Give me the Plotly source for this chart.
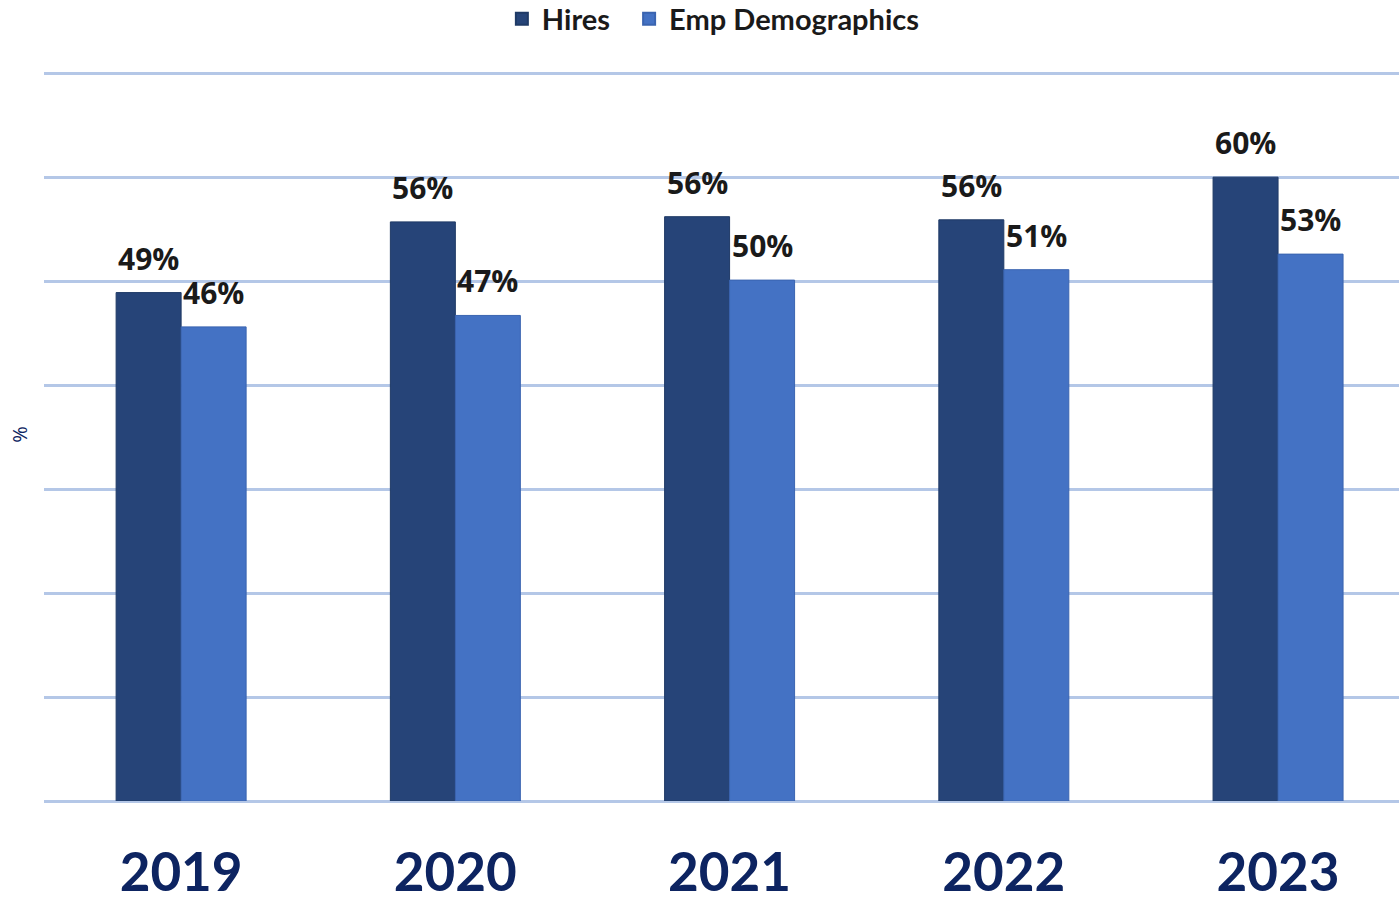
import plotly.graph_objects as go

years = ["2019", "2020", "2021", "2022", "2023"]
hires = [48.9, 55.7, 56.2, 55.9, 60.0]
emp_demo = [45.6, 46.7, 50.1, 51.1, 52.6]

fig = go.Figure()
fig.add_trace(go.Bar(
    x=years, y=hires, name="Hires\u00a0\u00a0",
    marker=dict(color="#264478", line=dict(color="#1f3a66", width=1)),
))
fig.add_trace(go.Bar(
    x=years, y=emp_demo, name="Emp Demographics",
    marker=dict(color="#4472c4", line=dict(color="#3a64b0", width=1)),
))

label_font = dict(family="Open Sans", size=30, color="#1a1a1a", weight="bold")
for series, dx in ((hires, -32.5), (emp_demo, 32.5)):
    for i, v in enumerate(series):
        fig.add_annotation(
            x=i, y=v, xref="x", yref="y", text=f"{v:.0f}%", showarrow=False,
            xshift=dx, yshift=12, yanchor="bottom", xanchor="center", font=label_font,
        )

fig.update_layout(
    width=1399, height=906,
    margin=dict(l=44, r=0, t=68, b=105),
    paper_bgcolor="white", plot_bgcolor="white",
    barmode="group", bargap=0.526, bargroupgap=0,
    showlegend=True,
    legend=dict(orientation="h", x=0.494, xanchor="center", y=1 - 19 / 906, yref="container",
                yanchor="middle", font=dict(family="Lato", size=29, color="#1a1a1a", weight="bold"),
                itemsizing="constant", itemwidth=30),
)
fig.update_xaxes(
    type="category", automargin=False,
    range=[-0.5, 4.441], showgrid=False, zeroline=False, showline=False,
    ticks="", tickfont=dict(family="Lato", size=53, color="#0d2461", weight="bold"),
    ticklabelstandoff=36,
)
fig.update_yaxes(
    range=[0, 70.5], dtick=10, showticklabels=False, showgrid=True,
    gridcolor="#b4c7e7", gridwidth=3, zeroline=True, zerolinecolor="#b4c7e7",
    zerolinewidth=3, showline=False,
    title=dict(text="%", font=dict(family="Open Sans", size=20, color="#0d2461"), standoff=10),
)

fig.write_html("out.html")
